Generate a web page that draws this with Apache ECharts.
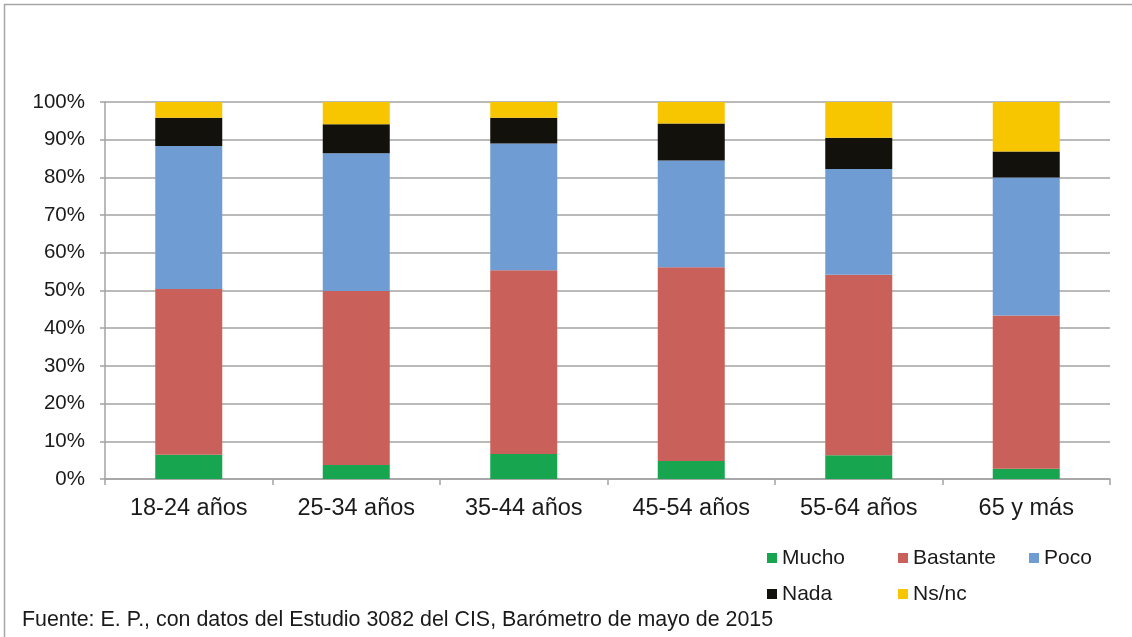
<!DOCTYPE html>
<html>
<head>
<meta charset="utf-8">
<script src="https://cdn.jsdelivr.net/npm/echarts@6/dist/echarts.min.js"></script>
<style>
html,body{margin:0;padding:0;background:#fff;}
#c{width:1132px;height:637px;}
</style>
</head>
<body>
<div id="c"></div>
<script>
var categories = ['18-24 años', '25-34 años', '35-44 años', '45-54 años', '55-64 años', '65 y más'];
var mucho    = [6.4, 3.7, 6.6, 4.8, 6.3, 2.7];
var bastante = [44.0, 46.2, 48.8, 51.4, 47.9, 40.7];
var poco     = [37.9, 36.5, 33.6, 28.3, 28.0, 36.6];
var nada     = [7.5, 7.7, 6.8, 9.8, 8.3, 6.9];
var nsnc     = [4.2, 5.9, 4.2, 5.7, 9.5, 13.1];
var yTicks = [0, 10, 20, 30, 40, 50, 60, 70, 80, 90, 100];
var sourceText = 'Fuente: E. P., con datos del Estudio 3082 del CIS, Barómetro de mayo de 2015';

var FONT = '"Liberation Sans", Arial, sans-serif';
var TXT = '#1a1a1a';
var GRID = '#a3a3a3';
var colors = {Mucho:'#17a550', Bastante:'#c9605a', Poco:'#6f9cd3', Nada:'#12110c', 'Ns/nc':'#f8c600'};

function mk(name, data) {
  return {
    name: name, type: 'bar', stack: 'total', data: data,
    barWidth: '40%',
    itemStyle: {color: colors[name]},
    emphasis: {disabled: true}
  };
}

var legendCommon = {
  orient: 'horizontal',
  width: 500,
  padding: 0,
  itemWidth: 10, itemHeight: 10, itemGap: 0,
  icon: 'rect',
  selectedMode: false,
  textStyle: {fontFamily: FONT, fontSize: 21, color: TXT, width: 116, lineHeight: 24}
};

var chart = echarts.init(document.getElementById('c'), null, {renderer: 'canvas'});
chart.setOption({
  animation: false,
  backgroundColor: '#fff',
  textStyle: {fontFamily: FONT},
  grid: {left: 105, right: 22, top: 102, bottom: 158, containLabel: false},
  legend: [
    Object.assign({}, legendCommon, {left: 767, top: 546, data: ['Mucho', 'Bastante', 'Poco']}),
    Object.assign({}, legendCommon, {left: 767, top: 582, data: ['Nada', 'Ns/nc']})
  ],
  xAxis: {
    type: 'category', data: categories,
    axisLine: {show: true, lineStyle: {color: GRID, width: 1.5}},
    axisTick: {show: true, alignWithLabel: false, length: 6, lineStyle: {color: GRID, width: 1.5}},
    axisLabel: {fontFamily: FONT, fontSize: 23.5, color: TXT, margin: 18, interval: 0},
    splitLine: {show: false}
  },
  yAxis: {
    type: 'value', min: 0, max: 100, interval: 10,
    axisLine: {show: true, lineStyle: {color: GRID, width: 1.5}},
    axisTick: {show: true, inside: false, length: 5, lineStyle: {color: GRID, width: 1.5}},
    axisLabel: {fontFamily: FONT, fontSize: 20.5, color: TXT, margin: 20,
      formatter: function (v) { return yTicks.indexOf(v) >= 0 ? v + '%' : ''; }},
    splitLine: {show: true, lineStyle: {color: GRID, width: 1.5}}
  },
  series: [
    mk('Mucho', mucho),
    mk('Bastante', bastante),
    mk('Poco', poco),
    mk('Nada', nada),
    mk('Ns/nc', nsnc)
  ],
  graphic: [
    {type: 'rect', left: 2, top: 2, shape: {width: 1140, height: 650},
      style: {fill: 'none', stroke: '#a6a6a6', lineWidth: 1.5}, silent: true, z: -1},
    {type: 'text', left: 22, top: 610,
      style: {text: sourceText, font: '21.4px ' + FONT, fill: TXT}}
  ]
});
</script>
</body>
</html>
